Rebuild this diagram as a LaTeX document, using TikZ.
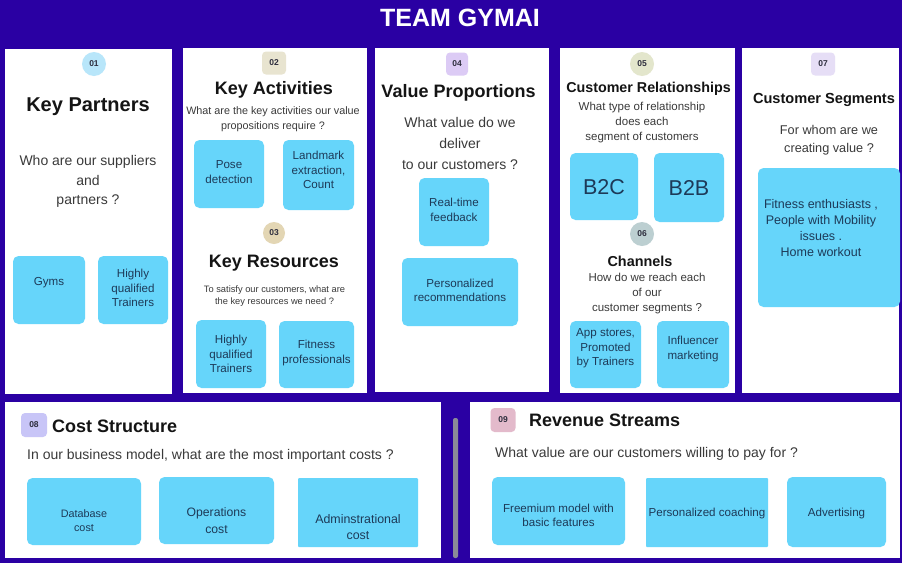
\documentclass[tikz,border=0pt]{standalone}
\usepackage{fontspec}
\setmainfont{Liberation Sans}
\usetikzlibrary{fit}
\definecolor{bgc}{HTML}{2A00A3}
\definecolor{cardc}{HTML}{66D5FA}
\definecolor{cardt}{HTML}{1D3A58}
\definecolor{headc}{HTML}{141414}
\definecolor{quesc}{HTML}{3A3A3A}
\definecolor{badget}{HTML}{2E2E3E}
\definecolor{scrollc}{HTML}{8A8A98}
\definecolor{bgA}{HTML}{B8E6FA}
\definecolor{bgB}{HTML}{E8E4D0}
\definecolor{bgC}{HTML}{E3D6B4}
\definecolor{bgD}{HTML}{DCCBF5}
\definecolor{bgE}{HTML}{E3E6CC}
\definecolor{bgF}{HTML}{BCCFD1}
\definecolor{bgG}{HTML}{E6DEF6}
\definecolor{bgH}{HTML}{C8C5F7}
\definecolor{bgI}{HTML}{E3BACB}
\begin{document}
\begin{tikzpicture}[x=1pt,y=-1pt,
  panel/.style={fill=white, inner sep=0pt, draw=none},
  card/.style={fill=cardc, inner sep=0pt, rounded corners=5.5pt},
  sharpcard/.style={fill=cardc, inner sep=0pt, rounded corners=1pt},
  cardtxt/.style={text=cardt, align=center, inner sep=0pt, font=\fontsize{11.6}{14.5}\selectfont},
  head/.style={text=headc, inner sep=0pt, font=\bfseries\fontsize{18}{22}\selectfont},
  ques/.style={text=quesc, align=center, inner sep=0pt},
  badgetxt/.style={font=\bfseries\fontsize{8.5}{9}\selectfont, text=badget, inner sep=0pt},
  cbadge/.style={circle, minimum size=24pt, badgetxt},
  sbadge/.style={rectangle, rounded corners=4pt, minimum width=24pt, minimum height=23pt, badgetxt}
]
\fill[bgc] (0,0) rectangle (902,563);
\useasboundingbox (0,0) rectangle (902,563);

% title
\node[text=white, inner sep=0pt, font=\bfseries\fontsize{25}{30}\selectfont] (title) at (460,18) {TEAM GYMAI};

% panels
\node[panel, fit={(5,49) (172,394)}] (p1) {};
\node[panel, fit={(183,48) (367,393)}] (p2) {};
\node[panel, fit={(375,48) (549,392)}] (p3) {};
\node[panel, fit={(560,48) (735,393)}] (p4) {};
\node[panel, fit={(742,48) (899,393)}] (p5) {};
\node[panel, fit={(5,402) (441,558)}] (p6) {};
\node[panel, fit={(470,402) (900,558)}] (p7) {};
\node[fill=scrollc, rounded corners=2pt, inner sep=0pt, fit={(453,418) (458,558)}] (scroll) {};

% ---- Key Partners
\node[cbadge, fill=bgA] (b01) at (94,64) {01};
\node[head, font=\bfseries\fontsize{20}{24}\selectfont] (h1) at (88,107) {Key Partners};
\node[ques, font=\fontsize{14}{19.5}\selectfont] (q1) at (88,181.5) {Who are our suppliers\\and\\partners ?};
\node[card, fit={(13,256) (85,324)}] (c1a) {};
\node[cardtxt] (t1a) at (49,283) {Gyms};
\node[card, fit={(98,256) (168,324)}] (c1b) {};
\node[cardtxt] (t1b) at (133,288) {Highly\\qualified\\Trainers};

% ---- Key Activities / Resources
\node[sbadge, fill=bgB] (b02) at (274,63) {02};
\node[head] (h2) at (274,90) {Key Activities};
\node[ques, font=\fontsize{10.8}{15}\selectfont] (q2) at (273,119.5) {What are the key activities our value\\propositions require ?};
\node[card, fit={(194,140) (264,208)}] (c2a) {};
\node[cardtxt] (t2a) at (229,172) {Pose\\detection};
\node[card, fit={(283,140) (354,210)}] (c2b) {};
\node[cardtxt] (t2b) at (318.5,170) {Landmark\\extraction,\\Count};
\node[cbadge, minimum size=22pt, fill=bgC] (b03) at (274,233) {03};
\node[head] (h3) at (274,263) {Key Resources};
\node[ques, font=\fontsize{9.3}{12.5}\selectfont] (q3) at (274.5,296) {To satisfy our customers, what are\\the key resources we need ?};
\node[card, fit={(196,320) (266,388)}] (c3a) {};
\node[cardtxt] (t3a) at (231,354) {Highly\\qualified\\Trainers};
\node[card, fit={(279,321) (354,388)}] (c3b) {};
\node[cardtxt] (t3b) at (316.5,353) {Fitness\\professionals};

% ---- Value Proportions
\node[sbadge, minimum width=22pt, fill=bgD] (b04) at (457,64) {04};
\node[head] (h4) at (458.5,93) {Value Proportions};
\node[ques, font=\fontsize{14}{21}\selectfont] (q4) at (460,143) {What value do we\\deliver\\to our customers ?};
\node[card, fit={(419,178) (489,246)}] (c4a) {};
\node[cardtxt] (t4a) at (454,210) {Real-time\\feedback};
\node[card, fit={(402,258) (518,326)}] (c4b) {};
\node[cardtxt] (t4b) at (460,290.5) {Personalized\\recommendations};

% ---- Customer Relationships / Channels
\node[cbadge, fill=bgE] (b05) at (642,64) {05};
\node[head, font=\bfseries\fontsize{14.3}{18}\selectfont] (h5) at (648.5,89) {Customer Relationships};
\node[ques, font=\fontsize{11.5}{15}\selectfont] (q5) at (642,123) {What type of relationship\\does each\\segment of customers};
\node[card, fit={(570,153) (638,220)}] (c5a) {};
\node[cardtxt, font=\fontsize{21.5}{24}\selectfont] (t5a) at (604,187) {B2C};
\node[card, fit={(654,153) (724,222)}] (c5b) {};
\node[cardtxt, font=\fontsize{21.5}{24}\selectfont] (t5b) at (689,188) {B2B};
\node[cbadge, fill=bgF] (b06) at (642,234) {06};
\node[head, font=\bfseries\fontsize{14.4}{18}\selectfont] (h6) at (640,261) {Channels};
\node[ques, font=\fontsize{11.5}{15}\selectfont] (q6) at (647,294) {How do we reach each\\of our\\customer segments ?};
\node[card, fit={(570,321) (641,388)}] (c6a) {};
\node[cardtxt] (t6a) at (605.5,348.5) {App stores,\\Promoted\\by Trainers};
\node[card, fit={(657,321) (729,388)}] (c6b) {};
\node[cardtxt] (t6b) at (693,349) {Influencer\\marketing};

% ---- Customer Segments
\node[sbadge, fill=bgG] (b07) at (823,64) {07};
\node[head, font=\bfseries\fontsize{14.6}{18}\selectfont] (h7) at (824,100) {Customer Segments};
\node[ques, font=\fontsize{12.7}{18}\selectfont] (q7) at (829,140) {For whom are we\\creating value ?};
\node[card, fit={(758,168) (900,307)}] (c7) {};
\node[cardtxt, font=\fontsize{12.5}{16}\selectfont] (t7) at (821,228) {Fitness enthusiasts ,\\People with Mobility\\issues .\\Home workout};

% ---- Cost Structure
\node[sbadge, minimum width=26pt, minimum height=24pt, fill=bgH] (b08) at (34,425) {08};
\node[head, anchor=west] (h8) at (52,426) {Cost Structure};
\node[ques, anchor=west, font=\fontsize{14}{17}\selectfont] (q8) at (27,456) {In our business model, what are the most important costs ?};
\node[card, fit={(27,478) (141,545)}] (c8a) {};
\node[cardtxt, font=\fontsize{10.8}{14.5}\selectfont] (t8a) at (84,520.5) {Database\\cost};
\node[card, fit={(159,477) (274,544)}] (c8b) {};
\node[cardtxt, font=\fontsize{12.2}{16.5}\selectfont] (t8b) at (216.5,520.5) {Operations\\cost};
\node[sharpcard, fit={(298,478) (418,547)}] (c8c) {};
\node[cardtxt, font=\fontsize{12.4}{16}\selectfont] (t8c) at (358,527) {Adminstrational\\cost};

% ---- Revenue Streams
\node[sbadge, minimum width=25pt, minimum height=24pt, fill=bgI] (b09) at (503,420) {09};
\node[head, anchor=west] (h9) at (529,420) {Revenue Streams};
\node[ques, anchor=west, font=\fontsize{14}{17}\selectfont] (q9) at (495,454) {What value are our customers willing to pay for ?};
\node[card, fit={(492,477) (625,545)}] (c9a) {};
\node[cardtxt] (t9a) at (558.5,515.5) {Freemium model with\\basic features};
\node[sharpcard, fit={(646,478) (768,547)}] (c9b) {};
\node[cardtxt] (t9b) at (707,513) {Personalized coaching};
\node[card, fit={(787,477) (886,547)}] (c9c) {};
\node[cardtxt] (t9c) at (836.5,513) {Advertising};
\end{tikzpicture}
\end{document}
